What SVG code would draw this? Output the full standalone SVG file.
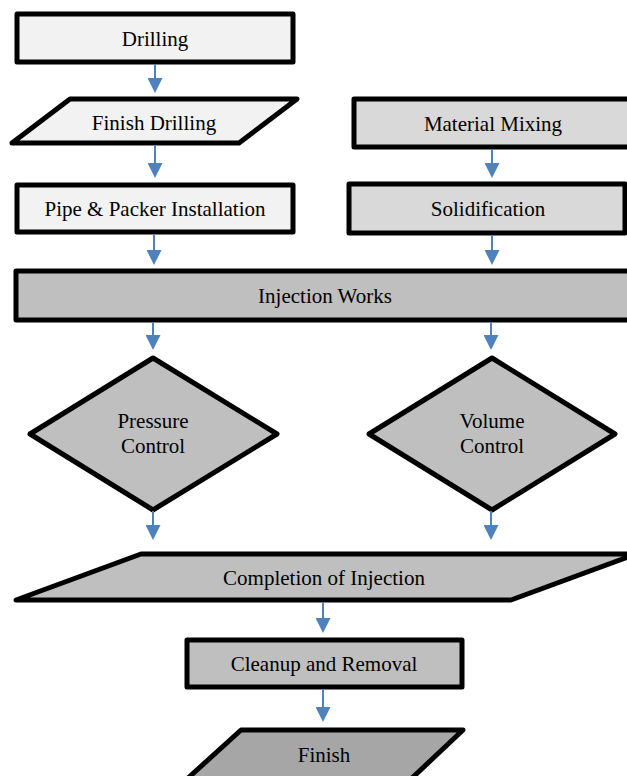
<svg xmlns="http://www.w3.org/2000/svg" width="627" height="776" viewBox="0 0 627 776">
<style>
.n{stroke:#000;stroke-width:5;stroke-linejoin:round}
.l1{fill:#f2f2f2}
.l2{fill:#d9d9d9}
.l3{fill:#bfbfbf}
.l4{fill:#a6a6a6}
.t{font-family:'Liberation Serif','Times New Roman',serif;font-size:21px;fill:#000;text-anchor:middle}
.c line{stroke:#4f81bd;stroke-width:2;marker-end:url(#ah)}
</style>
<defs>
<marker id="ah" markerUnits="userSpaceOnUse" viewBox="0 0 15 15" markerWidth="15" markerHeight="15" refX="0" refY="7.5" orient="auto">
<path d="M0,0 L15,7.5 L0,15 z" fill="#4f81bd"/>
</marker>
</defs>
<rect width="627" height="776" fill="#fff"/>
<g id="drilling"><rect class="n l1" x="17" y="14" width="276" height="48"/><text class="t" x="155" y="46">Drilling</text></g>
<g id="finish-drilling"><polygon class="n l1" points="70,99 297,99 239,143 12,143"/><text class="t" x="154" y="130">Finish Drilling</text></g>
<g id="pipe"><rect class="n l1" x="17" y="185" width="276" height="47"/><text class="t" x="155" y="216">Pipe &amp; Packer Installation</text></g>
<g id="material"><rect class="n l2" x="354" y="99" width="282" height="48"/><text class="t" x="493" y="131">Material Mixing</text></g>
<g id="solid"><rect class="n l2" x="349" y="184" width="276" height="49"/><text class="t" x="488" y="216">Solidification</text></g>
<g id="injection"><rect class="n l3" x="16" y="271" width="622" height="49"/><text class="t" x="325" y="303">Injection Works</text></g>
<g id="pressure"><polygon class="n l3" points="153,358 277,434 153,510 30,434"/><text class="t" x="153" y="428">Pressure</text><text class="t" x="153" y="453">Control</text></g>
<g id="volume"><polygon class="n l3" points="492,358 615,434 492,510 369,434"/><text class="t" x="492" y="428">Volume</text><text class="t" x="492" y="453">Control</text></g>
<g id="completion"><polygon class="n l3" points="141,554 636,554 511,600 16,600"/><text class="t" x="324" y="585">Completion of Injection</text></g>
<g id="cleanup"><rect class="n l3" x="187" y="640" width="275" height="47"/><text class="t" x="324" y="671">Cleanup and Removal</text></g>
<g id="finish"><polygon class="n l4" points="241,730 463,730 411,779 187,779"/><text class="t" x="324" y="762">Finish</text></g>
<g id="connectors" class="c">
<line x1="155" y1="64" x2="155" y2="78"/>
<line x1="155" y1="145" x2="155" y2="163"/>
<line x1="154" y1="234" x2="154" y2="250"/>
<line x1="492" y1="149" x2="492" y2="163"/>
<line x1="492" y1="235" x2="492" y2="250"/>
<line x1="153" y1="322" x2="153" y2="335"/>
<line x1="491" y1="322" x2="491" y2="335"/>
<line x1="153" y1="511" x2="153" y2="525"/>
<line x1="491" y1="511" x2="491" y2="525"/>
<line x1="323" y1="602" x2="323" y2="618"/>
<line x1="323" y1="689" x2="323" y2="707"/>
</g>
</svg>
